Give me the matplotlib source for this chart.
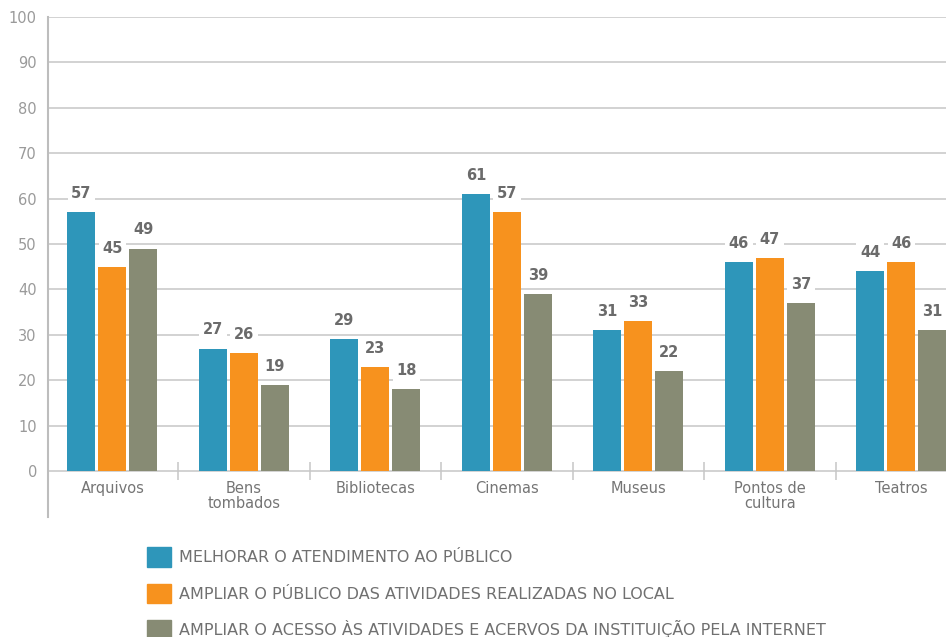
import numpy as np
import matplotlib.pyplot as plt
from matplotlib.patches import Patch

categories = ["Arquivos", "Bens\ntombados", "Bibliotecas", "Cinemas",
              "Museus", "Pontos de\ncultura", "Teatros"]
atendimento = [57, 27, 29, 61, 31, 46, 44]
publico = [45, 26, 23, 57, 33, 47, 46]
acesso = [49, 19, 18, 39, 22, 37, 31]

series_names = [
    "MELHORAR O ATENDIMENTO AO PÚBLICO",
    "AMPLIAR O PÚBLICO DAS ATIVIDADES REALIZADAS NO LOCAL",
    "AMPLIAR O ACESSO ÀS ATIVIDADES E ACERVOS DA INSTITUIÇÃO PELA INTERNET",
]
colors = ["#2E96BA", "#F7921E", "#878B74"]

fig = plt.figure(figsize=(9.46, 6.37), dpi=100)
ax = fig.add_axes([48 / 946, 1 - 517 / 637, 1 - 48 / 946, (517 - 17) / 637])

x = np.arange(len(categories))
width = 0.213
step = 0.236

for k, (vals, col) in enumerate(zip([atendimento, publico, acesso], colors)):
    pos = x + (k - 1) * step
    bars = ax.bar(pos, vals, width=width, color=col, zorder=3)
    for b, v in zip(bars, vals):
        ax.annotate(str(v), (b.get_x() + b.get_width() / 2, v),
                    xytext=(0, 8), textcoords="offset points",
                    ha="center", va="bottom", fontsize=10.5, fontweight="bold",
                    color="#6b6b6b", zorder=4,
                    bbox=dict(boxstyle="square,pad=0.25", fc="white", ec="none"))

# grid and axes
for y in range(0, 101, 10):
    ax.axhline(y, color="#c6c6c6", lw=1.1, zorder=1)
ax.vlines(x[:-1] + 0.5, -2, 2, color="#c6c6c6", lw=1.1, zorder=1)

ax.set_xlim(-0.49, 6.34)
ax.set_ylim(-10.1, 100)
ax.set_yticks(range(0, 101, 10))
ax.set_xticks([])
ax.tick_params(axis="y", length=0, pad=8, labelsize=10.5, labelcolor="#9a9a9a")
for s in ["top", "right", "bottom"]:
    ax.spines[s].set_visible(False)
ax.spines["left"].set_color("#bdbdbd")
ax.spines["left"].set_linewidth(1.5)

for i, c in enumerate(categories):
    ax.text(i, -2.2, c, ha="center", va="top", fontsize=10.5,
            color="#757575", linespacing=0.95)

handles = [Patch(color=c) for c in colors]
fig.legend(handles, series_names, loc="upper left",
           bbox_to_anchor=(133 / 946, 1 - 533 / 637), frameon=False,
           fontsize=11.5, labelcolor="#707070", handlelength=1.45,
           handleheight=1.5, handletextpad=0.5, labelspacing=1.05)

fig.savefig("out.png", dpi=100)
